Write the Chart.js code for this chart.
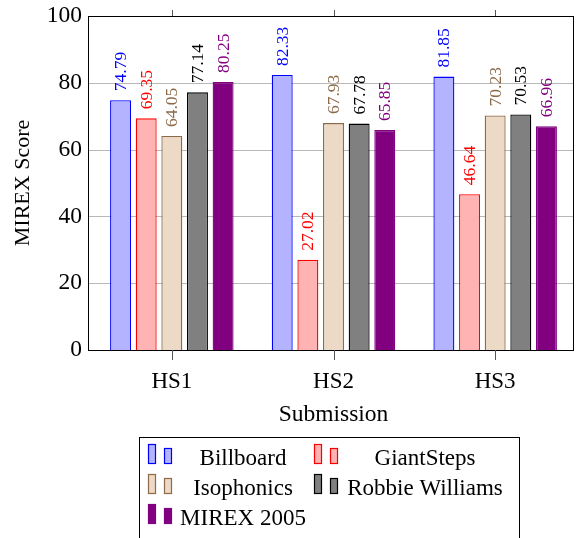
<!DOCTYPE html>
<html>
<head>
<meta charset="utf-8">
<script src="https://cdn.jsdelivr.net/npm/chart.js@4.4.0/dist/chart.umd.min.js"></script>
<style>
    html, body { margin: 0; padding: 0; background: #fff; }
    #wrap { width: 576px; height: 538px; }
</style>
</head>
<body>
<div id="wrap"><canvas id="scoreChart" width="576" height="538"></canvas></div>
<script>
const submissions = ['HS1', 'HS2', 'HS3'];
const billboard = [74.79, 82.33, 81.85];
const giantSteps = [69.35, 27.02, 46.64];
const isophonics = [64.05, 67.93, 70.23];
const robbieWilliams = [77.14, 67.78, 70.53];
const mirex2005 = [80.25, 65.85, 66.96];
const yTicks = [0, 20, 40, 60, 80, 100];

const serif = "'Liberation Serif', 'Times New Roman', serif";

// value labels, rotated, above each bar
const barLabels = {
    id: 'barLabels',
    afterDatasetsDraw(chart) {
        const ctx = chart.ctx;
        chart.data.datasets.forEach((ds, i) => {
            chart.getDatasetMeta(i).data.forEach((bar, j) => {
                ctx.save();
                ctx.translate(bar.x, bar.y - 9);
                ctx.rotate(-Math.PI / 2);
                ctx.font = '17.5px ' + serif;
                ctx.fillStyle = ds.labelColor;
                ctx.textAlign = 'left';
                ctx.textBaseline = 'middle';
                ctx.fillText(ds.data[j].toFixed(2), 0, 1);
                ctx.restore();
            });
        });
    }
};

// grid, axis box and tick marks (box sits a bit wider than the bar area, like pgfplots)
const frame = {
    id: 'frame',
    beforeDatasetsDraw(chart) {
        const ctx = chart.ctx;
        const a = chart.chartArea;
        const y = chart.scales.y;
        ctx.save();
        ctx.strokeStyle = '#b8b8b8';
        ctx.lineWidth = 1;
        yTicks.forEach(v => {
            const py = Math.round(y.getPixelForValue(v)) + 0.5;
            ctx.beginPath();
            ctx.moveTo(a.left - 3, py);
            ctx.lineTo(a.right - 2, py);
            ctx.stroke();
        });
        ctx.restore();
    },
    afterDraw(chart) {
        const ctx = chart.ctx;
        const a = chart.chartArea;
        const x = chart.scales.x;
        const left = a.left - 3, right = a.right - 2;
        ctx.save();
        ctx.strokeStyle = '#000';
        ctx.lineWidth = 1;
        ctx.strokeRect(left + 0.5, a.top + 0.5, right - left - 1, a.bottom - a.top);
        ctx.strokeStyle = '#555';
        submissions.forEach((s, i) => {
            const px = Math.round(x.getPixelForValue(i)) + 0.5;
            ctx.beginPath();
            ctx.moveTo(px, a.bottom);
            ctx.lineTo(px, a.bottom + 10);
            ctx.moveTo(px, a.top);
            ctx.lineTo(px, a.top - 6);
            ctx.stroke();
        });
        ctx.restore();
    }
};

// pgfplots style legend box
const boxLegend = {
    id: 'boxLegend',
    afterDraw(chart) {
        const ctx = chart.ctx;
        const iconX = [148, 314];
        const textX = [243, 425];
        const rowY = [465, 495, 525];
        ctx.save();
        ctx.strokeStyle = '#000';
        ctx.lineWidth = 1;
        ctx.strokeRect(139.5, 437.5, 380, 120);
        ctx.font = '23px ' + serif;
        ctx.textAlign = 'center';
        ctx.textBaseline = 'alphabetic';
        chart.data.datasets.forEach((ds, i) => {
            const col = i % 2;
            const row = Math.floor(i / 2);
            const x0 = iconX[col];
            const y0 = rowY[row];
            ctx.fillStyle = ds.backgroundColor;
            ctx.strokeStyle = ds.borderColor;
            ctx.lineWidth = 1.2;
            ctx.fillRect(x0, y0 - 21, 8, 20);
            ctx.strokeRect(x0 + 0.5, y0 - 20.5, 7, 19);
            ctx.fillRect(x0 + 16, y0 - 17, 8, 16);
            ctx.strokeRect(x0 + 16.5, y0 - 16.5, 7, 15);
            ctx.fillStyle = '#000';
            ctx.fillText(ds.label, textX[col], y0);
        });
        ctx.restore();
    }
};

const ctx = document.getElementById('scoreChart').getContext('2d');
new Chart(ctx, {
    type: 'bar',
    data: {
        labels: submissions,
        datasets: [
            { label: 'Billboard', data: billboard, backgroundColor: '#b3b3ff', borderColor: '#0000ff', labelColor: '#0000ff' },
            { label: 'GiantSteps', data: giantSteps, backgroundColor: '#ffb3b3', borderColor: '#ff0000', labelColor: '#ff0000' },
            { label: 'Isophonics', data: isophonics, backgroundColor: '#ecd9c6', borderColor: '#8c6a48', labelColor: '#8c6a48' },
            { label: 'Robbie Williams', data: robbieWilliams, backgroundColor: '#808080', borderColor: '#000000', labelColor: '#000000' },
            { label: 'MIREX 2005', data: mirex2005, backgroundColor: '#800080', borderColor: '#800080', labelColor: '#800080' }
        ]
    },
    options: {
        responsive: false,
        animation: false,
        devicePixelRatio: 1,
        layout: {
            padding: { top: 16, right: 0, left: 0, bottom: 108 }
        },
        datasets: {
            bar: {
                borderWidth: 1.3,
                categoryPercentage: 0.793,
                barPercentage: 0.817
            }
        },
        plugins: {
            legend: { display: false },
            tooltip: { enabled: false }
        },
        scales: {
            x: {
                afterFit: s => { s.height = 80; s.paddingLeft = 0; s.paddingRight = 0; },
                grid: { display: false },
                border: { display: false },
                ticks: {
                    color: '#000',
                    padding: 10,
                    font: { family: serif, size: 23 }
                },
                title: {
                    display: true,
                    text: 'Submission',
                    color: '#000',
                    padding: { top: 0, bottom: 1 },
                    font: { family: serif, size: 23.5 }
                }
            },
            y: {
                min: 0,
                max: 100,
                afterFit: s => { s.width = 91; s.paddingTop = 0; s.paddingBottom = 0; },
                afterBuildTicks: s => { s.ticks = yTicks.map(v => ({ value: v })); },
                grid: { display: false, drawTicks: false },
                border: { display: false },
                ticks: {
                    color: '#000',
                    padding: 9,
                    font: { family: serif, size: 23.5 }
                },
                title: {
                    display: true,
                    text: 'MIREX Score',
                    color: '#000',
                    padding: { top: 10, bottom: 0 },
                    font: { family: serif, size: 22 }
                }
            }
        }
    },
    plugins: [barLabels, frame, boxLegend]
});
</script>
</body>
</html>
